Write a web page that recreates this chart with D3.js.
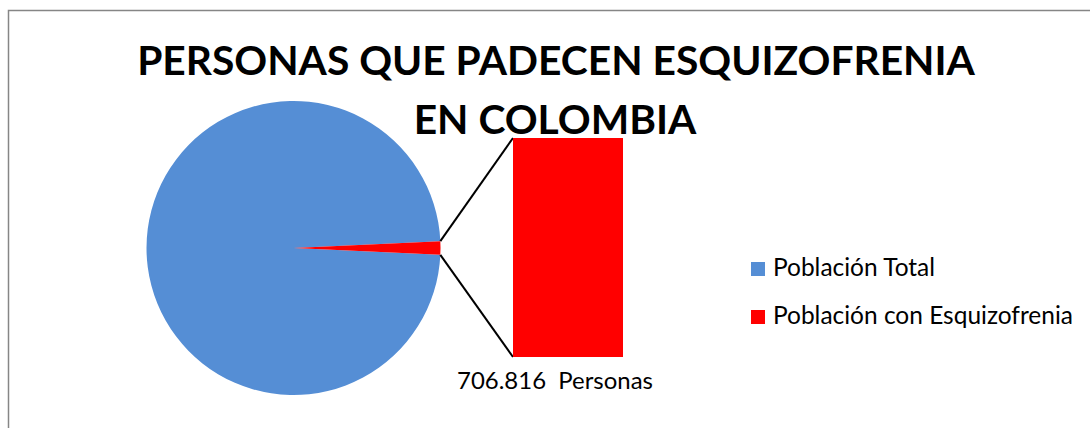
<!DOCTYPE html>
<html>
<head>
<meta charset="utf-8">
<script src="https://cdn.jsdelivr.net/npm/d3@7"></script>
<style>
  html, body { margin: 0; padding: 0; background: #fff; }
  svg { display: block; font-family: Lato, "Open Sans", sans-serif; }
</style>
</head>
<body>
<svg id="chart" width="1090" height="428"></svg>
<script>
// data
const categories = ["Población Total", "Población con Esquizofrenia"];
const values     = [47121089, 706816];
const colors     = ["#558ed5", "#ff0000"];
const titleLines = ["PERSONAS QUE PADECEN ESQUIZOFRENIA", "EN COLOMBIA"];
const barLabel   = "706.816  Personas";

const svg = d3.select("#chart");

// frame (runs off right / bottom like the source capture)
svg.append("rect")
  .attr("x", 8.5).attr("y", 10.5)
  .attr("width", 1200).attr("height", 500)
  .attr("fill", "none").attr("stroke", "#868686").attr("stroke-width", 1.5);

// scale font-size so text spans a given width
function fit(sel, w) {
  const len = sel.node().getComputedTextLength();
  const fs = parseFloat(sel.attr("font-size"));
  sel.attr("font-size", fs * w / len);
  return fs * w / len;
}

// title
const t1 = svg.append("text")
  .attr("x", 556).attr("y", 75)
  .attr("text-anchor", "middle")
  .attr("font-size", 44).attr("font-weight", "bold")
  .text(titleLines[0]);
const tfs = fit(t1, 838);
svg.append("text")
  .attr("x", 555).attr("y", 134)
  .attr("text-anchor", "middle")
  .attr("font-size", tfs).attr("font-weight", "bold")
  .text(titleLines[1]);

// pie
const cx = 293.5, cy = 248, r = 147;
const total = d3.sum(values);
const a = 2 * Math.PI * values[1] / total;
const s0 = Math.PI / 2 + a / 2;
const pie = d3.pie().sort(null).startAngle(s0).endAngle(s0 + 2 * Math.PI);
const arc = d3.arc().innerRadius(0).outerRadius(r);

const g = svg.append("g").attr("transform", `translate(${cx},${cy})`);
g.selectAll("path")
  .data(pie(values))
  .join("path")
    .attr("d", arc)
    .attr("fill", (d, i) => colors[i]);

// bar of pie
const barX = 513, barW = 110;
const y = d3.scaleLinear().domain([0, values[1]]).range([357, 138]);

const e1 = [cx + r * Math.cos(-a / 2), cy + r * Math.sin(-a / 2)];
const e2 = [cx + r * Math.cos(a / 2), cy + r * Math.sin(a / 2)];
svg.append("line")
  .attr("x1", e1[0]).attr("y1", e1[1])
  .attr("x2", barX).attr("y2", y(values[1]))
  .attr("stroke", "#000").attr("stroke-width", 2);
svg.append("line")
  .attr("x1", e2[0]).attr("y1", e2[1])
  .attr("x2", barX).attr("y2", y(0))
  .attr("stroke", "#000").attr("stroke-width", 2);

svg.append("rect")
  .attr("x", barX).attr("y", y(values[1]))
  .attr("width", barW).attr("height", y(0) - y(values[1]))
  .attr("fill", colors[1]);

const lab = svg.append("text")
  .attr("x", 555).attr("y", 389)
  .attr("text-anchor", "middle")
  .attr("font-size", 24).attr("fill", "#000")
  .attr("xml:space", "preserve")
  .style("white-space", "pre")
  .text(barLabel);
fit(lab, 196);

// legend
const leg = svg.append("g").attr("transform", "translate(751,0)");
const rows = leg.selectAll("g")
  .data(categories)
  .join("g")
    .attr("transform", (d, i) => `translate(0,${262 + i * 48})`);
rows.append("rect")
  .attr("width", 14).attr("height", 14)
  .attr("fill", (d, i) => colors[i]);
const legTexts = rows.append("text")
  .attr("x", 22).attr("y", 14)
  .attr("font-size", 22).attr("fill", "#000")
  .text(d => d);
fit(d3.select(legTexts.nodes()[1]), 300);
d3.select(legTexts.nodes()[0]).attr("font-size", d3.select(legTexts.nodes()[1]).attr("font-size"));
</script>
</body>
</html>
